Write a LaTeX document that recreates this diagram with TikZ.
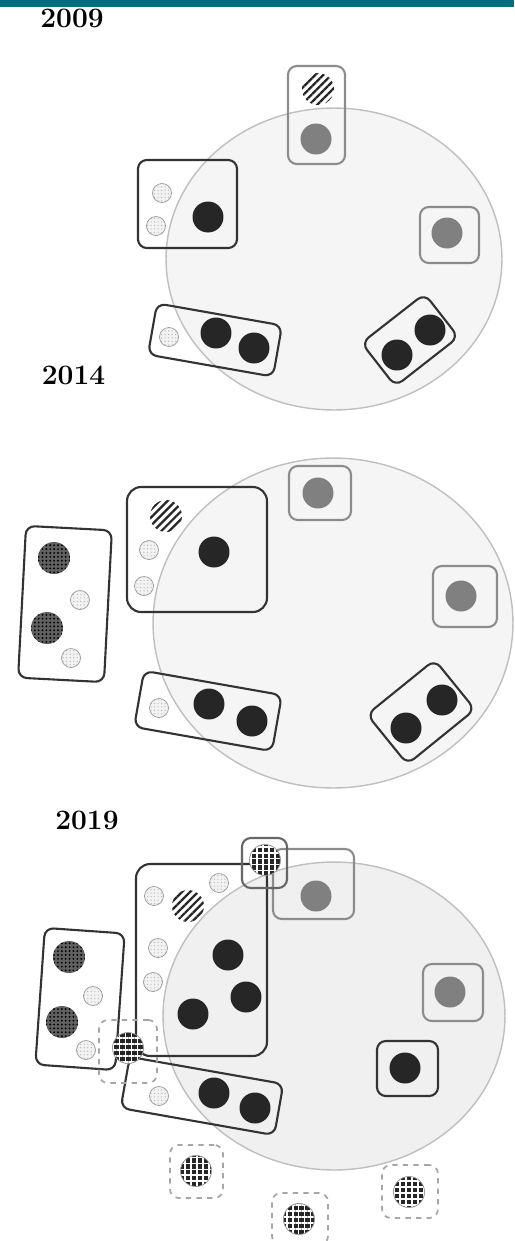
\documentclass[tikz,border=0pt]{standalone}
\usepackage{tikz}
\usetikzlibrary{shapes.geometric,patterns.meta}
\definecolor{bar}{RGB}{0,112,128}

\begin{document}
\begin{tikzpicture}[x=0.02cm,y=-0.02cm,
  area/.style={ellipse, draw=black!25, fill=black!4, line width=0.8pt, inner sep=0pt},
  dk/.style={draw=black!80, line width=1.2pt, rounded corners=5pt, inner sep=0pt},
  gy/.style={draw=black!45, line width=1.2pt, rounded corners=5pt, inner sep=0pt},
  dsh/.style={draw=black!35, dashed, line width=1pt, rounded corners=5pt, inner sep=0pt},
  blk/.style={circle, fill=black!85, minimum size=0.62cm, inner sep=0pt},
  gry/.style={circle, fill=black!50, minimum size=0.62cm, inner sep=0pt},
  sml/.style={circle, draw=black!40, preaction={fill=black!5}, pattern={Dots[distance=2pt,radius=0.35pt]}, pattern color=black!30, minimum size=0.38cm, inner sep=0pt},
  hat/.style={circle, preaction={fill=white}, pattern={Lines[angle=45,distance=3.2pt,line width=1.3pt]}, pattern color=black!85, minimum size=0.64cm, inner sep=0pt},
  drk/.style={circle, preaction={fill=black!62}, pattern={Dots[distance=2.2pt,radius=0.6pt]}, pattern color=black, minimum size=0.64cm, inner sep=0pt},
  chk/.style={circle, draw=black!40, preaction={fill=black!85}, pattern={Hatch[angle=0,distance=3.4pt,line width=0.9pt]}, pattern color=white, minimum size=0.62cm, inner sep=0pt},
  yr/.style={font=\fontsize{16}{18}\selectfont\bfseries, inner sep=0pt}]
\useasboundingbox (0,0) rectangle (514,1241);
\fill[bar] (0,0) rectangle (514,7);

% 2009
\node[yr] (y1) at (72,18) {2009};
\node[area, minimum width=6.72cm, minimum height=6.04cm] (e1) at (334,259) {};
\node[gy, minimum width=1.14cm, minimum height=1.96cm] (a1) at (316.5,115) {};
\node[dk, minimum width=1.98cm, minimum height=1.76cm] (a2) at (187.5,204) {};
\node[gy, minimum width=1.18cm, minimum height=1.12cm] (a3) at (449.5,235) {};
\node[dk, minimum width=2.54cm, minimum height=1.04cm, rotate=-10] (a4) at (215,340) {};
\node[dk, minimum width=1.6cm, minimum height=1.1cm, rotate=38] (a5) at (410,340) {};
\node[hat] (ah) at (318,89) {};
\foreach \x/\y [count=\i] in {316/139,447/233} \node[gry] (ag\i) at (\x,\y) {};
\foreach \x/\y [count=\i] in {162/193,156/226,169/337} \node[sml] (as\i) at (\x,\y) {};
\foreach \x/\y [count=\i] in {208/217,216/333,254/348,397/355,430/330} \node[blk] (ab\i) at (\x,\y) {};

% 2014
\node[yr] (y2) at (73.5,375) {2014};
\node[area, minimum width=7.2cm, minimum height=6.6cm] (e2) at (333,623) {};
\node[gy, minimum width=1.24cm, minimum height=1.08cm] (b1) at (320,493) {};
\node[gy, minimum width=1.28cm, minimum height=1.22cm] (b2) at (465,596.5) {};
\node[dk, minimum width=2.8cm, minimum height=2.5cm, rounded corners=8pt] (b3) at (197,549.5) {};
\node[dk, minimum width=1.72cm, minimum height=3.04cm, rotate=-3] (b4) at (65,604) {};
\node[dk, minimum width=2.8cm, minimum height=1.14cm, rotate=-10] (b5) at (208,711) {};
\node[dk, minimum width=1.74cm, minimum height=1.28cm, rotate=39] (b6) at (421,712) {};
\node[hat] (bh) at (166,516) {};
\foreach \x/\y [count=\i] in {318/493,461/596} \node[gry] (bg\i) at (\x,\y) {};
\foreach \x/\y [count=\i] in {54/558,47/628} \node[drk] (bd\i) at (\x,\y) {};
\foreach \x/\y [count=\i] in {149/550,144/586,80/600,71/658,159/708} \node[sml] (bs\i) at (\x,\y) {};
\foreach \x/\y [count=\i] in {214/552,209/704,252/721,406/728,442/700} \node[blk] (bb\i) at (\x,\y) {};

% 2019
\node[yr] (y3) at (87,820) {2019};
\node[area, fill=black!6, minimum width=6.84cm, minimum height=6.16cm] (e3) at (334,1016) {};
\node[gy, minimum width=1.62cm, minimum height=1.4cm] (c1) at (313.5,884) {};
\node[dk, minimum width=2.62cm, minimum height=3.84cm, rounded corners=8pt] (c2) at (201.5,960) {};
\node[dk, minimum width=1.6cm, minimum height=2.74cm, rotate=-4] (c3) at (80,999) {};
\node[dk, minimum width=3.12cm, minimum height=1.04cm, rotate=-10] (c4) at (202,1096) {};
\node[gy, minimum width=1.2cm, minimum height=1.14cm] (c5) at (453,992.5) {};
\node[dk, minimum width=1.22cm, minimum height=1.1cm] (c6) at (407.5,1068.5) {};
\node[gy, draw=black!60, minimum width=0.9cm, minimum height=1.0cm] (c7) at (264.5,863) {};
\node[dsh, minimum width=1.16cm, minimum height=1.26cm] (d1) at (128,1051.5) {};
\node[dsh, minimum width=1.06cm, minimum height=1.06cm] (d2) at (196.5,1171.5) {};
\node[dsh, minimum width=1.12cm, minimum height=1.04cm] (d3) at (300,1219) {};
\node[dsh, minimum width=1.12cm, minimum height=1.06cm] (d4) at (410,1191.5) {};
\node[hat] (ch) at (188,906) {};
\foreach \x/\y [count=\i] in {316/896,450/992} \node[gry] (cg\i) at (\x,\y) {};
\foreach \x/\y [count=\i] in {69/957,62/1022} \node[drk] (cd\i) at (\x,\y) {};
\foreach \x/\y [count=\i] in {154/896,219/883,158/948,153/982,93/996,86/1050,159/1096} \node[sml] (cs\i) at (\x,\y) {};
\foreach \x/\y [count=\i] in {228/955,246/997,193/1014,214/1093,255/1108,405/1068} \node[blk] (cb\i) at (\x,\y) {};
\foreach \x/\y [count=\i] in {265/860,128/1048,196/1171,299/1219,409/1192} \node[chk] (cc\i) at (\x,\y) {};
\end{tikzpicture}
\end{document}
